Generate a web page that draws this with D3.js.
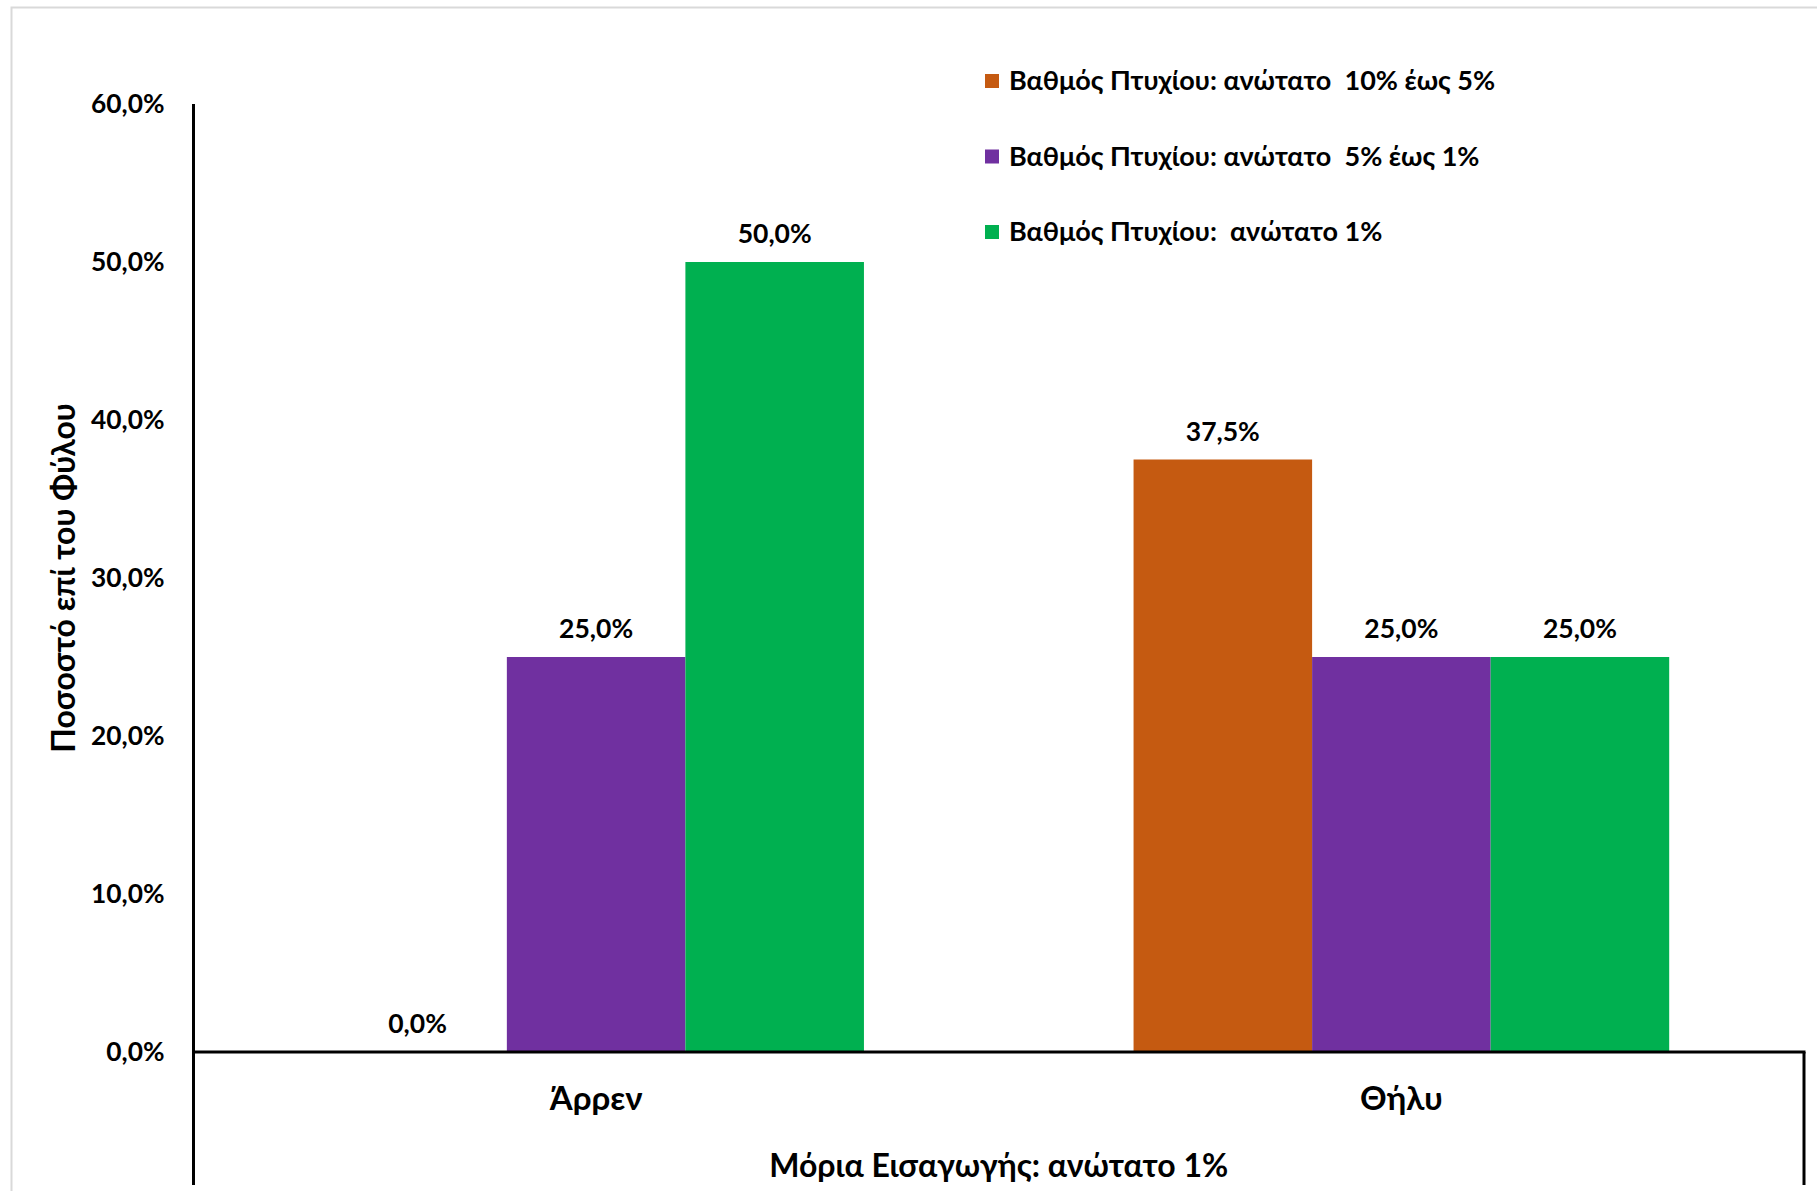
<!DOCTYPE html>
<html>
<head>
<meta charset="utf-8">
<script src="https://cdn.jsdelivr.net/npm/d3@7"></script>
<style>
  html, body { margin: 0; padding: 0; background: #fff; }
  svg { display: block; }
  text { font-family: "Lato", "Open Sans", "Noto Sans", sans-serif; font-weight: bold; fill: #000; }
</style>
</head>
<body>
<svg id="chart" width="1817" height="1191"></svg>
<script>
const categories = ["Άρρεν", "Θήλυ"];
const seriesNames = [
  "Βαθμός Πτυχίου: ανώτατο  10% έως 5%",
  "Βαθμός Πτυχίου: ανώτατο  5% έως 1%",
  "Βαθμός Πτυχίου:  ανώτατο 1%"
];
const seriesColors = ["#C55A11", "#7030A0", "#00B050"];
const valuesTop10to5 = [0.0, 37.5];
const valuesTop5to1 = [25.0, 25.0];
const valuesTop1 = [50.0, 25.0];
const yTicks = [0, 10, 20, 30, 40, 50, 60];
const yAxisTitle = "Ποσοστό επί του Φύλου";
const xAxisTitle = "Μόρια Εισαγωγής: ανώτατο 1%";

const seriesValues = [valuesTop10to5, valuesTop5to1, valuesTop1];

const svg = d3.select("#chart");
const W = 1817, H = 1191;
const pLeft = 193.5, pRight = 1804, pTop = 104, pBottom = 1052;

// outer chart border
svg.append("rect").attr("x", 11.5).attr("y", 7.5).attr("width", W + 10).attr("height", H + 10)
  .attr("fill", "none").attr("stroke", "#d9d9d9").attr("stroke-width", 2);

const locale = d3.formatLocale({decimal: ",", thousands: ".", grouping: [3], currency: ["", "€"]});
const fmt = v => locale.format(".1f")(v) + "%";

const y = d3.scaleLinear().domain([0, 60]).range([pBottom, pTop]);
const x0 = d3.scaleBand().domain(categories).range([pLeft, pRight]).paddingInner(0).paddingOuter(0);
const x1 = d3.scaleBand().domain(d3.range(seriesNames.length)).range([0, x0.bandwidth()])
  .paddingInner(0).paddingOuter(0.755);

const data = [];
categories.forEach((c, ci) => {
  seriesValues.forEach((vals, si) => data.push({cat: c, s: si, v: vals[ci]}));
});

// bars
svg.append("g").selectAll("rect").data(data).join("rect")
  .attr("x", d => x0(d.cat) + x1(d.s))
  .attr("y", d => y(d.v))
  .attr("width", x1.bandwidth())
  .attr("height", d => y(0) - y(d.v))
  .attr("fill", d => seriesColors[d.s]);

// value labels
svg.append("g").selectAll("text").data(data).join("text")
  .attr("x", d => x0(d.cat) + x1(d.s) + x1.bandwidth() / 2)
  .attr("y", d => y(d.v) - 19)
  .attr("text-anchor", "middle")
  .attr("font-size", 26.5)
  .text(d => fmt(d.v));

// y axis
const yAxis = d3.axisLeft(y).tickValues(yTicks).tickSize(0).tickPadding(29).tickFormat(fmt);
const gy = svg.append("g").attr("transform", `translate(${pLeft},0)`).call(yAxis);
gy.select(".domain").remove();
gy.selectAll("text").attr("font-size", 26.3).attr("font-family", null).attr("fill", "#000");
svg.append("line").attr("x1", pLeft).attr("x2", pLeft).attr("y1", pTop).attr("y2", 1185)
  .attr("stroke", "#000").attr("stroke-width", 3);

// x axis
const xAxis = d3.axisBottom(x0).tickSize(0).tickPadding(35);
const gx = svg.append("g").attr("transform", `translate(0,${pBottom})`).call(xAxis);
gx.select(".domain").remove();
gx.selectAll("text").attr("font-size", 33).attr("font-family", null).attr("fill", "#000");
svg.append("line").attr("x1", pLeft).attr("x2", pRight + 1.5).attr("y1", pBottom).attr("y2", pBottom)
  .attr("stroke", "#000").attr("stroke-width", 3);
svg.append("line").attr("x1", pRight).attr("x2", pRight).attr("y1", pBottom).attr("y2", 1185)
  .attr("stroke", "#000").attr("stroke-width", 3);

// axis titles
svg.append("text").attr("x", (pLeft + pRight) / 2).attr("y", 1177)
  .attr("text-anchor", "middle").attr("font-size", 32).text(xAxisTitle);
svg.append("text").attr("transform", `translate(75,${(pTop + pBottom) / 2}) rotate(-90)`)
  .attr("text-anchor", "middle").attr("font-size", 32).text(yAxisTitle);

// legend
const lg = svg.append("g").selectAll("g").data(seriesNames).join("g")
  .attr("transform", (d, i) => `translate(985,${81 + i * 75.5})`);
lg.append("rect").attr("x", 0).attr("y", -7).attr("width", 14).attr("height", 14)
  .attr("fill", (d, i) => seriesColors[i]);
lg.append("text").attr("x", 24).attr("y", 0).attr("dy", "0.35em").attr("font-size", 27)
  .style("white-space", "pre").text(d => d);
</script>
</body>
</html>
